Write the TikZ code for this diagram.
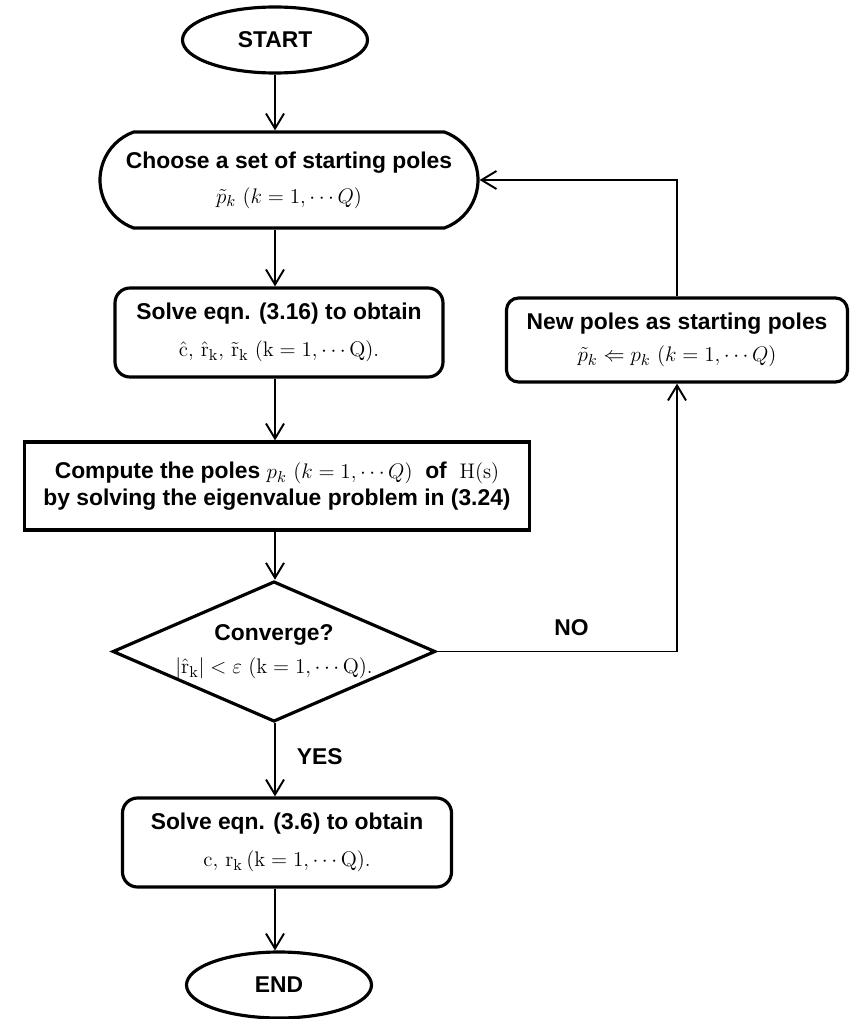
\documentclass[tikz,border=0pt]{standalone}
\usepackage{amsmath,amssymb}
\usepackage[no-math]{fontspec}
\setmainfont{Liberation Sans}
\usepackage{tikz}
\usetikzlibrary{shapes.geometric, shapes.misc, arrows.meta, positioning}
\tikzset{>={Straight Barb[length=3mm,width=3.6mm]}}

\begin{document}
\begin{tikzpicture}
    % Define node styles
    \tikzstyle{term} = [ellipse, draw, line width=1.8pt, minimum width=3.7cm, minimum height=1.32cm, inner sep=0pt, font=\fontsize{13}{15}\selectfont\bfseries]
    \tikzstyle{stadium} = [rounded rectangle, rounded rectangle arc length=140, draw, line width=1.8pt, inner sep=0pt, align=center, font=\fontsize{13}{15}\selectfont\bfseries]
    \tikzstyle{proc} = [rectangle, draw, line width=1.8pt, inner sep=0pt, align=center, font=\fontsize{13}{15}\selectfont\bfseries]
    \tikzstyle{test} = [diamond, draw, line width=1.8pt, aspect=2.3, inner sep=0pt, minimum width=6.36cm, minimum height=2.74cm, align=center, font=\fontsize{13}{15}\selectfont\bfseries]
    \tikzstyle{lbl} = [inner sep=0pt, font=\fontsize{13}{15}\selectfont\bfseries]
    \tikzstyle{flow} = [->, line width=1.1pt]

    \useasboundingbox (0,0) rectangle (17.02,-20.38);

    % Main column
    \node[term] (start) at (5.5,-0.8) {START};
    \node[stadium, minimum width=7.56cm, minimum height=1.92cm] (choose) at (5.78,-3.6)
        {Choose a set of starting poles\\[5pt] $\tilde{p}_k\ (k=1,\cdots Q)$};
    \node[proc, rounded corners=0.3cm, minimum width=6.56cm, minimum height=1.78cm] (solve1) at (5.58,-6.65)
        {Solve eqn. (3.16) to obtain\\[6pt] $\hat{\mathrm{c}},\, \hat{\mathrm{r}}_{\mathrm{k}},\, \tilde{\mathrm{r}}_{\mathrm{k}}\ (\mathrm{k}=1,\cdots\mathrm{Q}).$};
    \node[proc, minimum width=10.1cm, minimum height=1.76cm] (compute) at (5.54,-9.72)
        {Compute the poles $p_k\ (k=1,\cdots Q)$ \ of \ $\mathrm{H(s)}$\\ by solving the eigenvalue problem in (3.24)};
    \node[test] (conv) at (5.48,-13.03)
        {Converge?\\[4pt] $\left|\hat{\mathrm{r}}_{\mathrm{k}}\right| < \varepsilon\ (\mathrm{k}=1,\cdots\mathrm{Q}).$};
    \node[proc, rounded corners=0.3cm, minimum width=6.58cm, minimum height=1.78cm] (solve2) at (5.74,-16.85)
        {Solve eqn. (3.6) to obtain\\[6pt] $\mathrm{c},\, \mathrm{r}_{\mathrm{k}}\,(\mathrm{k}=1,\cdots\mathrm{Q}).$};
    \node[term] (end) at (5.58,-19.7) {END};

    % Feedback box
    \node[proc, rounded corners=0.24cm, minimum width=6.82cm, minimum height=1.68cm] (newpoles) at (13.54,-6.8)
        {New poles as starting poles\\[3pt] $\tilde{p}_k \Leftarrow p_k\ (k=1,\cdots Q)$};

    % Arrows down the column
    \draw[flow] (start) -- (start |- choose.north);
    \draw[flow] (choose.south -| start) -- (start |- solve1.north);
    \draw[flow] (solve1.south -| start) -- (start |- compute.north);
    \draw[flow] (compute.south -| start) -- (start |- conv.north);
    \draw[flow] (conv.south -| start) -- (start |- solve2.north)
        node[lbl, pos=0.45, right=0.42cm] (yes) {YES};
    \draw[flow] (solve2.south -| start) -- (start |- end.north);

    % Loop back
    \draw[flow] (conv.east) -| (newpoles.south)
        node[lbl, pos=0.28, above=0.3cm] (no) {NO};
    \draw[flow] (newpoles.north) |- (choose.east);

\end{tikzpicture}
\end{document}
